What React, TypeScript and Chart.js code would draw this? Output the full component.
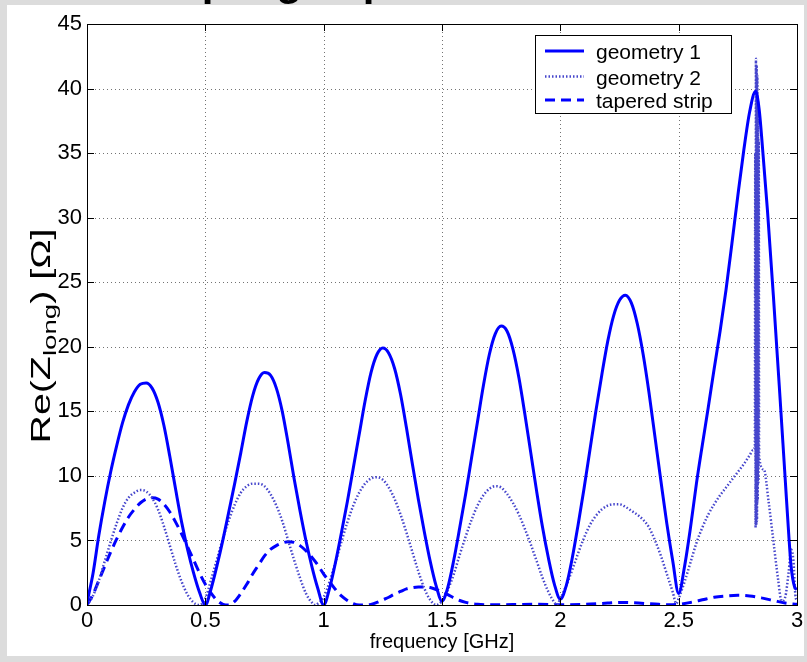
import React, { useEffect, useRef } from 'react';
import { Chart, registerables } from 'chart.js';

Chart.register(...registerables);

const TITLE = 'Coupling impedance';
const X_TITLE = 'frequency [GHz]';
const Y_TITLE_MAIN = 'Re(Z';
const Y_TITLE_SUB = 'long';
const Y_TITLE_END = ') [Ω]';

const xTickValues = [0, 0.5, 1, 1.5, 2, 2.5, 3];
const xTickLabels = ['0', '0.5', '1', '1.5', '2', '2.5', '3'];
const yTickValues = [0, 5, 10, 15, 20, 25, 30, 35, 40, 45];
const yTickLabels = ['0', '5', '10', '15', '20', '25', '30', '35', '40', '45'];

const seriesNames = ['geometry 1', 'geometry 2', 'tapered strip'];

// geometry 1 (solid)
const g1Freq = [
  0, 0.025, 0.05, 0.075, 0.1, 0.125, 0.15, 0.175, 0.2, 0.225, 0.25, 0.275, 0.3, 0.325, 0.35, 0.375, 0.4, 0.425, 0.45, 0.475,
  0.5, 0.525, 0.55, 0.575, 0.6, 0.625, 0.65, 0.675, 0.7, 0.725, 0.75, 0.775, 0.8, 0.825, 0.85, 0.875, 0.9, 0.925, 0.95, 0.975,
  1.0, 1.025, 1.05, 1.075, 1.1, 1.125, 1.15, 1.175, 1.2, 1.225, 1.25, 1.275, 1.3, 1.325, 1.35, 1.375, 1.4, 1.425, 1.45, 1.475,
  1.5, 1.525, 1.55, 1.575, 1.6, 1.625, 1.65, 1.675, 1.7, 1.725, 1.75, 1.775, 1.8, 1.825, 1.85, 1.875, 1.9, 1.925, 1.95, 1.975,
  2.0, 2.025, 2.05, 2.075, 2.1, 2.125, 2.15, 2.175, 2.2, 2.225, 2.25, 2.275, 2.3, 2.325, 2.35, 2.375, 2.4, 2.425, 2.45, 2.475,
  2.5, 2.525, 2.55, 2.575, 2.6, 2.625, 2.65, 2.675, 2.7, 2.725, 2.75, 2.775, 2.8, 2.825, 2.84, 2.85, 2.875, 2.9, 2.925, 2.95,
  2.965, 2.975, 2.99, 3.0,
];
const g1Re = [
  0.2, 2.4, 5.4, 8.0, 10.3, 12.3, 14.1, 15.5, 16.5, 17.1, 17.2, 16.8, 15.7, 13.9, 11.5, 8.9, 6.4, 4.3, 2.5, 1.0,
  0.0, 1.3, 3.1, 5.1, 7.3, 9.5, 11.8, 14.2, 16.2, 17.5, 18.0, 17.8, 16.8, 15.0, 12.5, 9.8, 7.3, 5.0, 3.0, 1.3,
  0.0, 1.3, 3.3, 5.6, 8.0, 10.6, 13.2, 15.8, 18.0, 19.4, 19.9, 19.5, 18.3, 16.3, 13.7, 10.9, 8.2, 5.7, 3.4, 1.5,
  0.3, 1.4, 3.5, 6.0, 8.6, 11.4, 14.2, 17.0, 19.4, 21.0, 21.6, 21.2, 19.8, 17.6, 14.8, 11.8, 8.8, 6.0, 3.6, 1.6,
  0.45, 1.5, 3.6, 6.2, 9.0, 12.0, 15.0, 17.8, 20.4, 22.4, 23.6, 24.0, 23.4, 21.8, 19.4, 16.4, 13.0, 9.6, 6.3, 3.4,
  0.9, 3.0, 6.0, 9.4, 12.4, 15.3, 18.3, 21.2, 24.4, 28.0, 31.7, 35.2, 38.2, 39.8, 38.4, 36.4, 30.6, 24.0, 17.0, 9.8,
  5.5, 3.0, 1.4, 1.2,
];

// geometry 2 (dotted)
const g2Freq = [
  0, 0.025, 0.05, 0.075, 0.1, 0.125, 0.15, 0.175, 0.2, 0.225, 0.25, 0.275, 0.3, 0.325, 0.35, 0.375, 0.4, 0.425, 0.45, 0.475,
  0.5, 0.525, 0.55, 0.575, 0.6, 0.625, 0.65, 0.675, 0.7, 0.725, 0.75, 0.775, 0.8, 0.825, 0.85, 0.875, 0.9, 0.925, 0.95, 0.965, 0.975,
  1.0, 1.025, 1.05, 1.075, 1.1, 1.125, 1.15, 1.175, 1.2, 1.225, 1.25, 1.275, 1.3, 1.325, 1.35, 1.375, 1.4, 1.425, 1.45, 1.475,
  1.5, 1.525, 1.55, 1.575, 1.6, 1.625, 1.65, 1.675, 1.7, 1.725, 1.75, 1.775, 1.8, 1.825, 1.85, 1.875, 1.9, 1.925, 1.95, 1.975, 1.985,
  2.0, 2.025, 2.05, 2.075, 2.1, 2.125, 2.15, 2.175, 2.2, 2.225, 2.25, 2.275, 2.3, 2.325, 2.35, 2.375, 2.4, 2.425, 2.45, 2.475, 2.49,
  2.5, 2.525, 2.55, 2.575, 2.6, 2.625, 2.65, 2.675, 2.7, 2.725, 2.75, 2.775, 2.8, 2.815, 2.822,
  2.8235, 2.825, 2.8265, 2.828, 2.8295, 2.831, 2.8325, 2.834, 2.8355, 2.837, 2.8385, 2.84,
  2.86, 2.88, 2.9, 2.92, 2.935, 2.95, 2.965, 2.975, 2.985, 2.993, 3.0,
];
const g2Re = [
  0.0, 0.7, 1.9, 3.4, 4.9, 6.3, 7.5, 8.3, 8.7, 8.9, 8.8, 8.3, 7.4, 6.1, 4.6, 3.1, 1.8, 0.8, 0.2, 0.0,
  0.5, 2.0, 3.6, 5.2, 6.6, 7.8, 8.7, 9.2, 9.4, 9.4, 9.2, 8.6, 7.7, 6.5, 5.0, 3.5, 2.1, 0.9, 0.2, 0.0, 0.1,
  0.6, 1.8, 3.3, 4.9, 6.4, 7.7, 8.7, 9.4, 9.8, 9.9, 9.7, 9.1, 8.2, 7.0, 5.6, 4.1, 2.6, 1.3, 0.4, 0.0,
  0.3, 1.2, 2.4, 3.9, 5.3, 6.6, 7.7, 8.5, 9.0, 9.2, 9.1, 8.6, 7.9, 7.0, 5.9, 4.7, 3.4, 2.1, 1.0, 0.2, 0.0,
  0.5, 1.5, 2.7, 4.0, 5.2, 6.2, 6.9, 7.4, 7.7, 7.8, 7.8, 7.6, 7.3, 7.0, 6.6, 6.0, 5.0, 3.8, 2.4, 1.0, 0.1,
  0.5, 1.8, 3.3, 4.8, 6.0, 7.0, 7.8, 8.5, 9.1, 9.7, 10.3, 10.9, 11.6, 12.0, 12.3,
  35.0, 6.0, 42.3, 6.2, 41.8, 6.5, 41.0, 8.0, 39.0, 9.5, 36.0, 11.5,
  10.5, 8.0, 5.0, 2.0, 0.3, 0.6, 2.6, 4.3, 3.4, 0.8, 0.3,
];

// tapered strip (dashed)
const tsFreq = [
  0, 0.025, 0.05, 0.075, 0.1, 0.125, 0.15, 0.175, 0.2, 0.225, 0.25, 0.275, 0.3, 0.325, 0.35, 0.375, 0.4, 0.425, 0.45, 0.475,
  0.5, 0.525, 0.55, 0.575, 0.6, 0.625, 0.65, 0.675, 0.7, 0.725, 0.75, 0.775, 0.8, 0.825, 0.85, 0.875, 0.9, 0.925, 0.95, 0.975,
  1.0, 1.025, 1.05, 1.075, 1.1, 1.125, 1.15, 1.175, 1.2, 1.225, 1.25, 1.275, 1.3, 1.325, 1.35, 1.375, 1.4, 1.425, 1.45, 1.475,
  1.5, 1.525, 1.55, 1.575, 1.6, 1.625, 1.65, 1.7, 1.8, 1.9, 2.0, 2.1, 2.2, 2.25, 2.3, 2.4, 2.45, 2.5, 2.55, 2.6,
  2.65, 2.7, 2.75, 2.8, 2.85, 2.9, 2.95, 3.0,
];
const tsRe = [
  0.0, 0.8, 1.9, 3.0, 4.1, 5.1, 6.0, 6.8, 7.4, 7.9, 8.2, 8.3, 8.2, 7.8, 7.2, 6.4, 5.5, 4.5, 3.5, 2.5,
  1.6, 0.9, 0.35, 0.05, 0.0, 0.3, 0.9, 1.6, 2.4, 3.1, 3.8, 4.3, 4.6, 4.8, 4.9, 4.85, 4.6, 4.2, 3.7, 3.1,
  2.4, 1.8, 1.2, 0.7, 0.35, 0.1, 0.0, 0.0, 0.05, 0.2, 0.4, 0.6, 0.85, 1.05, 1.25, 1.35, 1.4, 1.4, 1.35, 1.2,
  1.0, 0.8, 0.55, 0.35, 0.2, 0.1, 0.05, 0.02, 0.03, 0.05, 0.02, 0.05, 0.15, 0.2, 0.18, 0.07, 0.02, 0.05, 0.2, 0.4,
  0.6, 0.7, 0.75, 0.7, 0.55, 0.35, 0.15, 0.05,
];

const W = 807;
const H = 662;
const FONT = '"Liberation Sans", Arial, sans-serif';

const colors = ['#0000ff', '#4646cc', '#0000ff'];
const widths = [3, 2.5, 3];
const dashes: number[][] = [[], [1.5, 2], [10, 6]];

const decorPlugin = {
  id: 'decor',
  beforeDraw(chart: any) {
    const ctx = chart.ctx;
    ctx.save();
    ctx.fillStyle = '#dcdcdc';
    ctx.fillRect(0, 0, W, H);
    ctx.fillStyle = '#ffffff';
    ctx.fillRect(7, 5, 797, 651);
    ctx.fillStyle = '#000';
    ctx.font = `bold 42px ${FONT}`;
    ctx.textBaseline = 'alphabetic';
    ctx.textAlign = 'left';
    ctx.fillText(TITLE, 120, -5);
    ctx.restore();
  },
  beforeDatasetsDraw(chart: any) {
    const ctx = chart.ctx;
    const { left, right, top, bottom } = chart.chartArea;
    const xs = chart.scales.x;
    const ys = chart.scales.y;
    ctx.save();
    ctx.strokeStyle = 'rgba(0,0,0,0.55)';
    ctx.lineWidth = 1;
    ctx.setLineDash([1, 3]);
    xTickValues.forEach((v) => {
      if (v === xs.min || v === xs.max) return;
      const x = Math.round(xs.getPixelForValue(v)) + 0.5;
      ctx.beginPath();
      ctx.moveTo(x, top);
      ctx.lineTo(x, bottom);
      ctx.stroke();
    });
    yTickValues.forEach((v) => {
      if (v === ys.min || v === ys.max) return;
      const y = Math.round(ys.getPixelForValue(v)) + 0.5;
      ctx.beginPath();
      ctx.moveTo(left, y);
      ctx.lineTo(right, y);
      ctx.stroke();
    });
    ctx.restore();
  },
  afterDraw(chart: any) {
    const ctx = chart.ctx;
    const { left, right, top, bottom } = chart.chartArea;
    const xs = chart.scales.x;
    const ys = chart.scales.y;
    ctx.save();
    // frame
    ctx.strokeStyle = '#000';
    ctx.lineWidth = 1;
    ctx.setLineDash([]);
    ctx.strokeRect(Math.round(left) + 0.5, Math.round(top) + 0.5, Math.round(right - left), Math.round(bottom - top));
    // inward ticks
    const TL = 7;
    xTickValues.forEach((v) => {
      const x = Math.round(xs.getPixelForValue(v)) + 0.5;
      ctx.beginPath();
      ctx.moveTo(x, bottom);
      ctx.lineTo(x, bottom - TL);
      ctx.moveTo(x, top);
      ctx.lineTo(x, top + TL);
      ctx.stroke();
    });
    yTickValues.forEach((v) => {
      const y = Math.round(ys.getPixelForValue(v)) + 0.5;
      ctx.beginPath();
      ctx.moveTo(left, y);
      ctx.lineTo(left + TL, y);
      ctx.moveTo(right, y);
      ctx.lineTo(right - TL, y);
      ctx.stroke();
    });
    // x title
    ctx.fillStyle = '#000';
    ctx.font = `20px ${FONT}`;
    ctx.textAlign = 'center';
    ctx.textBaseline = 'alphabetic';
    ctx.fillText(X_TITLE, (left + right) / 2, 648);
    // y title with subscript
    ctx.textAlign = 'left';
    const mainFont = `27px ${FONT}`;
    const subFont = `19px ${FONT}`;
    ctx.font = mainFont;
    const w1 = ctx.measureText(Y_TITLE_MAIN).width;
    const w3 = ctx.measureText(Y_TITLE_END).width;
    ctx.font = subFont;
    const w2 = ctx.measureText(Y_TITLE_SUB).width;
    const total = w1 + w2 + w3;
    const targetLen = 215;
    const sx = targetLen / total;
    ctx.translate(50, 336);
    ctx.rotate(-Math.PI / 2);
    ctx.scale(sx, 1);
    let u = -total / 2;
    ctx.font = mainFont;
    ctx.fillText(Y_TITLE_MAIN, u, 0);
    u += w1;
    ctx.font = subFont;
    ctx.fillText(Y_TITLE_SUB, u, 6);
    u += w2;
    ctx.font = mainFont;
    ctx.fillText(Y_TITLE_END, u, 0);
    ctx.setTransform(1, 0, 0, 1, 0, 0);
    // legend
    const bx = 535, by = 35, bw = 196, bh = 78;
    ctx.fillStyle = '#fff';
    ctx.fillRect(bx, by, bw, bh);
    ctx.strokeStyle = '#000';
    ctx.lineWidth = 1;
    ctx.strokeRect(bx + 0.5, by + 0.5, bw, bh);
    const rows = [51, 76.5, 100];
    seriesNames.forEach((name, i) => {
      const y = rows[i];
      ctx.strokeStyle = colors[i];
      ctx.lineWidth = widths[i];
      ctx.setLineDash(dashes[i]);
      ctx.beginPath();
      ctx.moveTo(545, y);
      ctx.lineTo(584, y);
      ctx.stroke();
      ctx.setLineDash([]);
      ctx.fillStyle = '#000';
      ctx.font = `21px ${FONT}`;
      ctx.textAlign = 'left';
      ctx.textBaseline = 'alphabetic';
      ctx.fillText(name, 596, y + 8);
    });
    ctx.restore();
  },
};

export default function App() {
  const ref = useRef<HTMLCanvasElement>(null);
  useEffect(() => {
    const canvas = ref.current;
    if (!canvas) return;
    const series = [
      [g1Freq, g1Re],
      [g2Freq, g2Re],
      [tsFreq, tsRe],
    ];
    const chart = new Chart(canvas, {
      type: 'line',
      data: {
        datasets: series.map(([fs, vs], i) => ({
          label: seriesNames[i],
          data: fs.map((f, j) => ({ x: f, y: vs[j] })),
          borderColor: colors[i],
          backgroundColor: colors[i],
          borderWidth: widths[i],
          borderDash: dashes[i],
          pointRadius: 0,
          fill: false,
          cubicInterpolationMode: 'monotone' as const,
        })),
      },
      options: {
        responsive: false,
        animation: false,
        devicePixelRatio: 1,
        layout: { padding: { top: 24, right: 10, left: 0, bottom: 0 } },
        plugins: { legend: { display: false }, tooltip: { enabled: false }, title: { display: false } },
        scales: {
          x: {
            type: 'linear',
            min: 0,
            max: 3,
            afterBuildTicks: (s: any) => {
              s.ticks = xTickValues.map((v) => ({ value: v }));
            },
            afterFit: (s: any) => {
              s.height = 57;
            },
            ticks: {
              autoSkip: false,
              maxRotation: 0,
              padding: 3,
              color: '#000',
              font: { family: FONT, size: 22 },
              callback: (_v: any, i: number) => xTickLabels[i],
            },
            grid: { display: false, drawTicks: false },
            border: { display: false },
          },
          y: {
            type: 'linear',
            min: 0,
            max: 45,
            afterBuildTicks: (s: any) => {
              s.ticks = yTickValues.map((v) => ({ value: v }));
            },
            afterFit: (s: any) => {
              s.width = 87;
            },
            ticks: {
              autoSkip: false,
              padding: 5,
              color: '#000',
              font: { family: FONT, size: 22 },
              callback: (_v: any, i: number) => yTickLabels[i],
            },
            grid: { display: false, drawTicks: false },
            border: { display: false },
          },
        },
      },
      plugins: [decorPlugin],
    } as any);
    return () => chart.destroy();
  }, []);
  return (
    <div style={{ position: 'fixed', left: 0, top: 0, width: W, height: H }}>
      <canvas ref={ref} width={W} height={H} style={{ display: 'block' }} />
    </div>
  );
}
